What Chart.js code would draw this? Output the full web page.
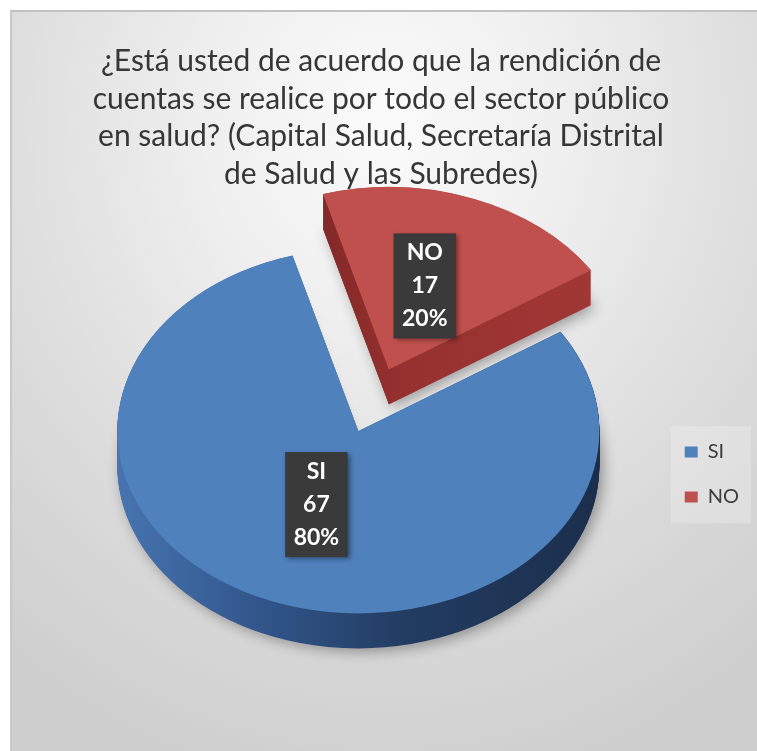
<!DOCTYPE html>
<html>
<head>
<meta charset="utf-8">
<script src="https://cdn.jsdelivr.net/npm/chart.js@4.4.1/dist/chart.umd.min.js"></script>
<style>
html,body{margin:0;padding:0;background:#ffffff;}
#wrap{position:relative;width:757px;height:751px;overflow:hidden;}
#panel{position:absolute;left:10px;top:10px;width:747px;height:741px;box-sizing:border-box;
  border-top:2px solid #c2c2c2;border-left:2px solid #c8c8c8;
  background:radial-gradient(ellipse 80% 90% at 50% 15%, #fbfbfb 0%, #efefef 30%, #dddddd 65%, #cfcfcf 100%);}
canvas{position:absolute;left:0;top:0;}
</style>
</head>
<body>
<div id="wrap"><div id="panel"></div><canvas id="c" width="757" height="751"></canvas></div>
<script>
// ---- data ----
const categories = ['SI', 'NO'];
const counts = [67, 17];
const titleLines = [
  '¿Está usted de acuerdo que la rendición de',
  'cuentas se realice por todo el sector público',
  'en salud? (Capital Salud, Secretaría Distrital',
  'de Salud y las Subredes)'
];
const sliceColors = ['#4f81bd', '#c0504d'];
const explodeFraction = [0, 0.36];

// ---- style ----
const FONT = 'Lato, "Open Sans", sans-serif';
const TILT = 0.757;       // vertical squash of the pie
const DEPTH = 35;         // thickness in px
const PIE_DX = 22;        // nudge of the pie inside the plot area
const PIE_DY = -26;
const LABEL_FR = 0.46;
const LABEL_DX = -3, LABEL_DY = -5;
const sideStops = [
  [[0, '#4774b0'], [0.3, '#31558a'], [0.6, '#223c61'], [1, '#1b2f4c']],
  [[0, '#5e1c1b'], [0.2, '#7c2624'], [0.45, '#963130'], [1, '#a33a37']]
];

const total = counts.reduce((a, b) => a + b, 0);

function geom(chart) {
  const arcs = chart.getDatasetMeta(0).data;
  const ca = chart.chartArea;
  const cx = arcs[0].x + PIE_DX, cy = arcs[0].y;
  const scy = (ca.top + ca.bottom) / 2 - DEPTH / 2 + PIE_DY;
  return {arcs, cx, cy, scy};
}

const legendPanel = {
  id: 'legendPanel',
  beforeDraw(chart) {
    const hb = chart.legend && chart.legend.legendHitBoxes;
    if (!hb || !hb.length) return;
    const ctx = chart.ctx;
    const l = Math.min(...hb.map(b => b.left)) - 14;
    const r = Math.max(...hb.map(b => b.left + b.width)) + 12;
    const t = Math.min(...hb.map(b => b.top)) - 16;
    const btm = Math.max(...hb.map(b => b.top + b.height)) + 16;
    ctx.save();
    ctx.fillStyle = 'rgba(255,255,255,0.22)';
    ctx.fillRect(l, t, r - l, btm - t);
    ctx.restore();
  }
};

const pie3d = {
  id: 'pie3d',
  beforeDatasetsDraw(chart) {
    const ctx = chart.ctx;
    const {arcs, cy, scy} = geom(chart);
    const depthU = DEPTH / TILT;
    const order = arcs.map((a, i) => i).sort((a, b) => explodeFraction[b] - explodeFraction[a]);
    ctx.save();
    ctx.translate(PIE_DX, scy);
    ctx.scale(1, TILT);
    ctx.translate(0, -cy);
    for (const i of order) {
      const arc = arcs[i];
      const R = arc.outerRadius;
      const ax = arc.x;
      const mid = (arc.startAngle + arc.endAngle) / 2;
      const e = explodeFraction[i] * R;
      const ex = Math.cos(mid) * e, ey = Math.sin(mid) * e;
      const saved = arc.options;
      const grad = ctx.createLinearGradient(ax - R + ex * (i === 1 ? 1.6 : 1), 0, ax + R + ex, 0);
      sideStops[i].forEach(s => grad.addColorStop(s[0], s[1]));
      const sideOpts = Object.assign({}, saved, {backgroundColor: grad, borderColor: grad, borderWidth: 0});
      for (let d = depthU; d > 0; d -= 1) {
        ctx.save();
        ctx.translate(ex, ey + d);
        if (d === depthU) {
          ctx.shadowColor = 'rgba(0,0,0,0.35)';
          ctx.shadowBlur = 14;
          ctx.shadowOffsetX = 4;
          ctx.shadowOffsetY = 3;
        }
        arc.options = sideOpts;
        arc.draw(ctx);
        ctx.restore();
      }
      arc.options = saved;
      ctx.save();
      ctx.translate(ex, ey);
      arc.draw(ctx);
      ctx.restore();
    }
    ctx.restore();
    return false;
  },
  afterDraw(chart) {
    const ctx = chart.ctx;
    const {arcs, cx, scy} = geom(chart);
    arcs.forEach((arc, i) => {
      const R = arc.outerRadius;
      const mid = (arc.startAngle + arc.endAngle) / 2;
      const e = explodeFraction[i] * R;
      const ux = Math.cos(mid) * (e + LABEL_FR * R);
      const uy = Math.sin(mid) * (e + LABEL_FR * R);
      const x = cx + ux + LABEL_DX, y = scy + uy * TILT + LABEL_DY;
      const pct = Math.round(counts[i] / total * 100) + '%';
      const lines = [categories[i], String(counts[i]), pct];
      ctx.save();
      ctx.font = 'bold 23px ' + FONT;
      const lh = 33;
      const w = Math.max(...lines.map(l => ctx.measureText(l).width)) + 17;
      const h = lh * lines.length + 6;
      ctx.shadowColor = 'rgba(0,0,0,0.45)';
      ctx.shadowBlur = 5;
      ctx.shadowOffsetX = 2;
      ctx.shadowOffsetY = 2;
      ctx.fillStyle = '#3a3a3a';
      ctx.fillRect(x - w / 2, y - h / 2, w, h);
      ctx.shadowColor = 'transparent';
      ctx.fillStyle = '#ffffff';
      ctx.textAlign = 'center';
      ctx.textBaseline = 'middle';
      lines.forEach((l, k) => ctx.fillText(l, x, y - h / 2 + 3 + lh * (k + 0.5)));
      ctx.restore();
    });
  }
};

new Chart(document.getElementById('c'), {
  type: 'pie',
  data: {
    labels: categories,
    datasets: [{
      data: counts,
      backgroundColor: sliceColors,
      borderColor: sliceColors,
      borderWidth: 0,
      offset: 0,
      radius: 241
    }]
  },
  options: {
    responsive: false,
    animation: false,
    rotation: 57,
    layout: {padding: {left: 13, right: 8, top: 0, bottom: 5}},
    plugins: {
      tooltip: {enabled: false},
      title: {
        display: true,
        text: titleLines,
        color: '#363636',
        font: {family: FONT, size: 30, weight: 'normal', lineHeight: 1.25},
        padding: {top: 43, bottom: 10}
      },
      legend: {
        position: 'right',
        align: 'center',
        fullSize: false,
        labels: {
          boxWidth: 13,
          boxHeight: 11,
          padding: 25,
          color: '#3c3c3c',
          font: {family: FONT, size: 20}
        }
      }
    }
  },
  plugins: [legendPanel, pie3d]
});
</script>
</body>
</html>
